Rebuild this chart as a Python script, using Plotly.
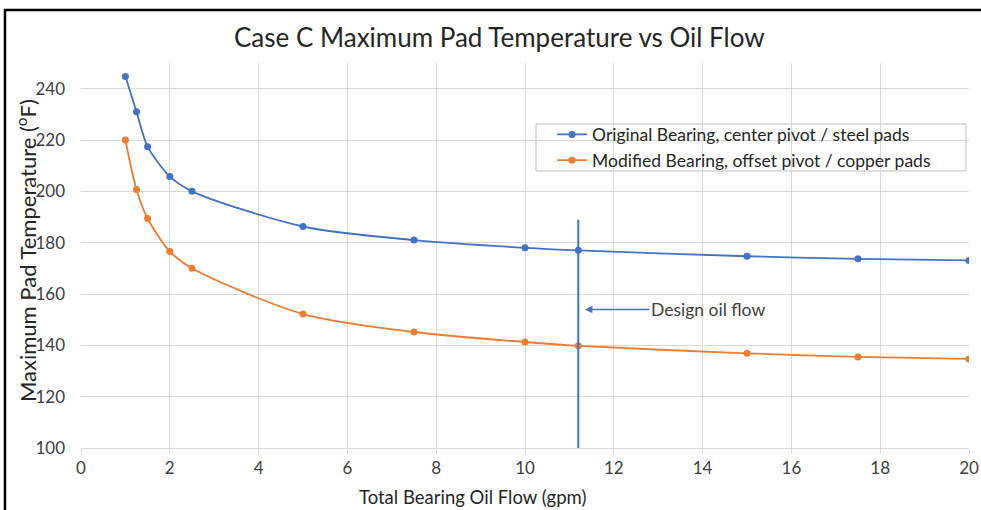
import plotly.graph_objects as go

flow = [1, 1.25, 1.5, 2, 2.5, 5, 7.5, 10, 11.2, 15, 17.5, 20]
original_temp = [244.7, 231.0, 217.4, 205.8, 200.0, 186.3, 181.0, 178.0, 177.0, 174.7, 173.7, 173.1]
modified_temp = [220.0, 200.7, 189.4, 176.6, 170.0, 152.2, 145.2, 141.3, 139.8, 136.9, 135.5, 134.7]
series_names = ["Original Bearing, center pivot / steel pads",
                "Modified Bearing, offset pivot / copper pads"]
design_flow_x = [11.2, 11.2]
design_flow_y = [100, 189]
design_label = "Design oil flow"
y_ticks = [100, 120, 140, 160, 180, 200, 220, 240]
x_ticks = [0, 2, 4, 6, 8, 10, 12, 14, 16, 18, 20]

BLUE = "#4472C4"
ORANGE = "#ED7D31"
FONT = "Lato"
TXT = "#404040"

fig = go.Figure()
fig.add_trace(go.Scatter(x=flow, y=original_temp, name=series_names[0], mode="lines+markers",
                         line=dict(color=BLUE, width=1.8, shape="spline", smoothing=0.8),
                         marker=dict(color=BLUE, size=7)))
fig.add_trace(go.Scatter(x=flow, y=modified_temp, name=series_names[1], mode="lines+markers",
                         line=dict(color=ORANGE, width=1.8, shape="spline", smoothing=0.8),
                         marker=dict(color=ORANGE, size=7)))
fig.add_trace(go.Scatter(x=design_flow_x, y=design_flow_y, mode="lines", showlegend=False,
                         line=dict(color=BLUE, width=2), hoverinfo="skip"))

fig.add_annotation(x=11.35, y=154, ax=14.12, ay=154, axref="x", ayref="y", xref="x", yref="y",
                   text=design_label, showarrow=True, arrowhead=2, arrowsize=1, arrowwidth=1.5,
                   arrowcolor=BLUE, font=dict(family=FONT, size=17.5, color=TXT))

# axis titles
fig.add_annotation(xref="paper", yref="paper", x=0.441, y=-0.127, showarrow=False,
                   text="Total Bearing Oil Flow (gpm)", xanchor="center", yanchor="middle",
                   font=dict(family=FONT, size=18.5, color="#262626"))
fig.add_annotation(xref="paper", yref="paper", x=-0.0608, y=0.5117, showarrow=False,
                   text="Maximum Pad Temperature (<sup>o</sup>F)", textangle=-90,
                   xanchor="center", yanchor="middle",
                   font=dict(family=FONT, size=22, color="#262626"))

# legend box
fig.add_shape(type="rect", xref="paper", yref="paper", x0=0.5124, y0=0.7195, x1=0.9966, y1=0.8416,
              line=dict(color="#bfbfbf", width=1), fillcolor="white", layer="between")

# outer frame
fig.add_shape(type="rect", xref="paper", yref="paper", x0=-0.0856, y0=-0.3, x1=1.2, y1=1.1377,
              line=dict(color="black", width=2.5), fillcolor="rgba(0,0,0,0)", layer="above")

fig.update_layout(
    width=981, height=510,
    margin=dict(l=81, r=12, t=63, b=62),
    paper_bgcolor="white", plot_bgcolor="white",
    title=dict(text="Case C Maximum Pad Temperature vs Oil Flow", x=0.509, xanchor="center",
               y=1 - 38 / 510, yanchor="middle", yref="container",
               font=dict(family=FONT, size=26, color="#262626")),
    font=dict(family=FONT, color=TXT),
    legend=dict(x=0.5305, y=0.861, xanchor="left", yanchor="top",
                borderwidth=0, bgcolor="rgba(0,0,0,0)",
                font=dict(family=FONT, size=17.5, color="#262626"), tracegroupgap=0),
    xaxis=dict(range=[0, 20], tickvals=x_ticks, showgrid=True, gridcolor="#d9d9d9", gridwidth=1,
               showline=True, linecolor="#d9d9d9", linewidth=1, ticks="outside", ticklen=5,
               tickcolor="#d9d9d9", zeroline=False, automargin=False,
               tickfont=dict(family=FONT, size=17, color=TXT)),
    yaxis=dict(range=[100, 250], tickvals=y_ticks, showgrid=True, gridcolor="#d9d9d9", gridwidth=1,
               showline=False, ticks="", zeroline=False, ticklabelstandoff=15, automargin=False,
               tickfont=dict(family=FONT, size=17, color=TXT)),
    showlegend=True,
)

fig.write_html("out.html")
